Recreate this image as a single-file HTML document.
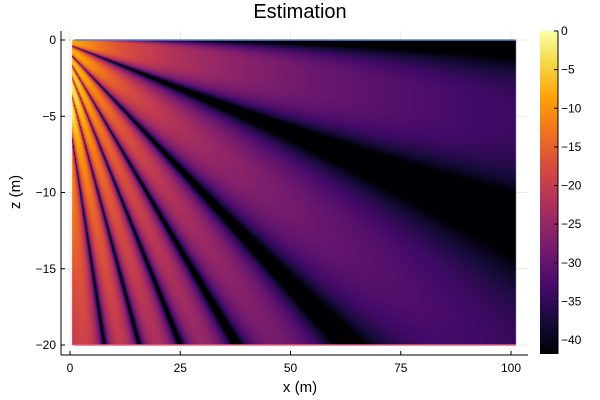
<!DOCTYPE html>
<html><head><meta charset="utf-8">
<style>
html,body{margin:0;padding:0;background:#fff;}
#wrap{position:relative;width:600px;height:400px;font-family:"Liberation Sans","DejaVu Sans",sans-serif;color:#000;}
</style></head>
<body>
<div id="wrap">
<svg id="svg" width="600" height="400" style="position:absolute;left:0;top:0">
  <defs>
    <linearGradient id="cbg" x1="0" y1="1" x2="0" y2="0">
      <stop offset="0" stop-color="#000004"/><stop offset="0.1" stop-color="#160b39"/>
      <stop offset="0.2" stop-color="#420a68"/><stop offset="0.3" stop-color="#6a176e"/>
      <stop offset="0.4" stop-color="#932667"/><stop offset="0.5" stop-color="#bc3754"/>
      <stop offset="0.6" stop-color="#dd513a"/><stop offset="0.7" stop-color="#f37819"/>
      <stop offset="0.8" stop-color="#fca50a"/><stop offset="0.9" stop-color="#f6d746"/>
      <stop offset="1" stop-color="#fcffa4"/>
    </linearGradient>
  </defs>
  <text x="300" y="18" text-anchor="middle" font-size="20">Estimation</text>
  <g id="grid"></g>
  <foreignObject x="0" y="0" width="600" height="400">
    <canvas id="hm" width="600" height="400" style="position:absolute;left:0;top:0"></canvas>
  </foreignObject>
  <g id="axes"></g>
  <text x="300" y="392" text-anchor="middle" font-size="15">x (m)</text>
  <text x="20" y="192" text-anchor="middle" font-size="15" transform="rotate(-90 20 192)">z (m)</text>
  <rect x="540" y="31" width="18" height="323" fill="url(#cbg)"/>
  <g id="cbar"></g>
</svg>
</div>
<script>
// ---- data ----
const xTicks = [0, 25, 50, 75, 100];
const zTicks = [0, -5, -10, -15, -20];
const cTicks = [0, -5, -10, -15, -20, -25, -30, -35, -40];
const xRange = [1, 101];
const zRange = [0, -20];
const cRange = [-41.8, 0];
// sin(angle) of interference nulls (seen from the apparent origin)
const nullSines = [0, 0.112, 0.29, 0.44, 0.58, 0.73, 0.88, 1.03];
const apparentOrigin = [-3, 0];
const sourceDepth = [4];
const surfaceNearRange = [30];

// ---- axis functions ----
const X = v => 70 + (v - 0) * 4.41;
const Z = v => 40 + (0 - v) * 15.25;
const C = v => 31 + (0 - v) * (309 / 40);

const NS = 'http://www.w3.org/2000/svg';
function mk(tag, attrs, parent, txt){
  const e = document.createElementNS(NS, tag);
  for (const k in attrs) e.setAttribute(k, attrs[k]);
  if (txt !== undefined) e.textContent = txt;
  parent.appendChild(e); return e;
}
const grid = document.getElementById('grid');
const axes = document.getElementById('axes');
const cbar = document.getElementById('cbar');
const fmt = v => v < 0 ? '\u2212' + Math.abs(v) : String(v);

xTicks.forEach(t => {
  const g = mk('line', {x1:X(t), x2:X(t), y1:31, y2:355, stroke:'#000', 'stroke-opacity':0.08}, grid);
  
  
  const tk = mk('line', {x1:X(t), x2:X(t), y1:355, y2:351, stroke:'#000'}, axes);
  
  
  const lb = mk('text', {x:X(t), y:372, 'text-anchor':'middle', 'font-size':12}, axes, fmt(t));
  
  
});
zTicks.forEach(t => {
  const g = mk('line', {x1:61, x2:528, y1:Z(t), y2:Z(t), stroke:'#000', 'stroke-opacity':0.08}, grid);
  
  
  const tk = mk('line', {x1:61, x2:65, y1:Z(t), y2:Z(t), stroke:'#000'}, axes);
  
  
  const lb = mk('text', {x:56, y:Z(t)+4, 'text-anchor':'end', 'font-size':12}, axes, fmt(t));
  
  
});
const ls = mk('line', {x1:61, x2:61, y1:31, y2:355, stroke:'#000'}, axes);


const bs = mk('line', {x1:61, x2:528, y1:355, y2:355, stroke:'#000'}, axes);


const sl = mk('line', {x1:X(xRange[0]), x2:X(xRange[1]), y1:Z(0), y2:Z(0), stroke:'#5b7fd6', 'stroke-width':1.5}, axes);


const bl = mk('line', {x1:X(xRange[0]), x2:X(xRange[1]), y1:Z(-20), y2:Z(-20), stroke:'#e0607a', 'stroke-width':1.5}, axes);



const cs = mk('line', {x1:558, x2:558, y1:31, y2:354, stroke:'#000'}, cbar);


cTicks.forEach(t => {
  const tk = mk('line', {x1:554, x2:558, y1:C(t), y2:C(t), stroke:'#000'}, cbar);
  
  
  const lb = mk('text', {x:561, y:C(t)+4, 'font-size':12}, cbar, fmt(t));
  
  
});

// ---- colormap ----
const stops = [[0,0,4],[22,11,57],[66,10,104],[106,23,110],[147,38,103],[188,55,84],[221,81,58],[243,120,25],[252,165,10],[246,215,70],[252,255,164]];
function cmap(t){
  t = Math.max(0, Math.min(1, t)) * 10;
  const i = Math.min(9, Math.floor(t)), f = t - i;
  const a = stops[i], b = stops[i+1];
  return [a[0]+(b[0]-a[0])*f, a[1]+(b[1]-a[1])*f, a[2]+(b[2]-a[2])*f];
}

function nullIndex(s){
  for (let i = 0; i < nullSines.length - 1; i++){
    if (s <= nullSines[i+1]) return i + (s - nullSines[i]) / (nullSines[i+1] - nullSines[i]);
  }
  return nullSines.length - 1;
}
function level(x, z){
  const dx = x - apparentOrigin[0], dz = z - apparentOrigin[1];
  const r = Math.sqrt(dx*dx + dz*dz) + 1e-6;
  const s = Math.max(0, -dz / r);
  let n = nullIndex(s);
  if (n < 0.5){
    // surface null is narrower close to the source
    n = Math.min(0.5, n * (1 + surfaceNearRange[0] / Math.max(x, 0.5)));
  }
  const A = Math.abs(Math.sin(Math.PI * n));
  const R = Math.sqrt(x*x + (z + sourceDepth[0])**2) + 1.5;
  return 20*Math.log10(2*A + 1e-9) - 20*Math.log10(R);
}

const x0 = Math.round(X(xRange[0]) - 2), x1 = Math.round(X(xRange[1])) + 1;
const y0 = Math.round(Z(zRange[0])), y1 = Math.round(Z(zRange[1]));
const cv = document.getElementById('hm');
const ctx = cv.getContext('2d');
const W = x1 - x0, H = y1 - y0;
const img = ctx.createImageData(W, H);
for (let j = 0; j < H; j++){
  const z = -(y0 + j + 0.5 - 40) / 15.25;
  for (let i = 0; i < W; i++){
    const x = (x0 + i + 0.5 - 70) / 4.41;
    const v = level(Math.max(x, 0.3), z);
    const c = cmap((v - cRange[0]) / (cRange[1] - cRange[0]));
    const k = (j*W + i) * 4;
    img.data[k] = c[0]; img.data[k+1] = c[1]; img.data[k+2] = c[2]; img.data[k+3] = 255;
  }
}
ctx.putImageData(img, x0, y0);
</script>
</body></html>
